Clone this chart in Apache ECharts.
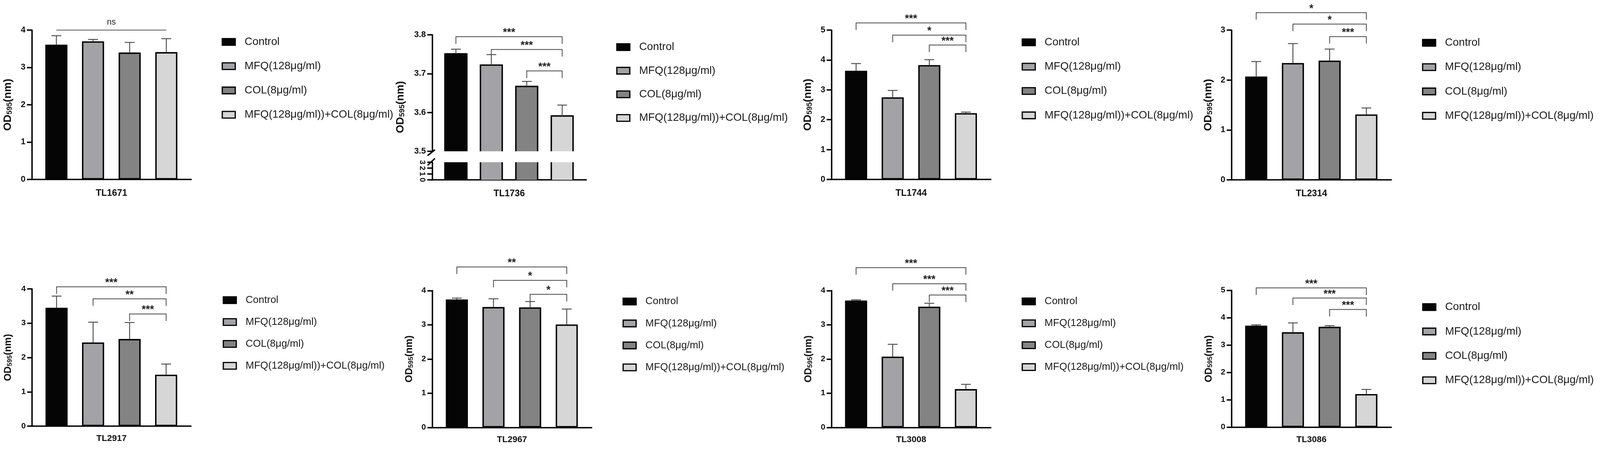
<!DOCTYPE html>
<html><head><meta charset="utf-8">
<script src="https://cdn.jsdelivr.net/npm/echarts@6/dist/echarts.min.js"></script>
<style>html,body{margin:0;padding:0;background:#fff;overflow:hidden}#c{width:100vw;height:100vh}</style>
</head><body><div id="c"></div>
<script>
// ---------- DATA ----------
const groups = ['Control', 'MFQ(128μg/ml)', 'COL(8μg/ml)', 'MFQ(128μg/ml))+COL(8μg/ml)'];
const strains = ['TL1671', 'TL1736', 'TL1744', 'TL2314', 'TL2917', 'TL2967', 'TL3008', 'TL3086'];

const meanTL1671 = [3.61, 3.70, 3.40, 3.41];
const sdTL1671   = [0.24, 0.05, 0.27, 0.36];
const sigTL1671  = [[0, 3, 4.0, 'ns']];

const meanTL1736 = [3.751, 3.722, 3.667, 3.591];
const sdTL1736   = [0.012, 0.027, 0.013, 0.028];
const sigTL1736  = [[0, 3, 3.795, '***'], [1, 3, 3.762, '***'], [2, 3, 3.707, '***']];

const meanTL1744 = [3.64, 2.75, 3.83, 2.22];
const sdTL1744   = [0.24, 0.23, 0.18, 0.035];
const sigTL1744  = [[0, 3, 5.24, '***'], [1, 3, 4.83, '*'], [2, 3, 4.50, '***']];

const meanTL2314 = [2.07, 2.34, 2.39, 1.31];
const sdTL2314   = [0.30, 0.39, 0.23, 0.13];
const sigTL2314  = [[0, 3, 3.35, '*'], [1, 3, 3.12, '*'], [2, 3, 2.87, '***']];

const meanTL2917 = [3.45, 2.44, 2.54, 1.50];
const sdTL2917   = [0.34, 0.59, 0.48, 0.31];
const sigTL2917  = [[0, 3, 4.06, '***'], [1, 3, 3.71, '**'], [2, 3, 3.27, '***']];

const meanTL2967 = [3.74, 3.52, 3.51, 3.01];
const sdTL2967   = [0.04, 0.24, 0.17, 0.45];
const sigTL2967  = [[0, 3, 4.69, '**'], [1, 3, 4.30, '*'], [2, 3, 3.89, '*']];

const meanTL3008 = [3.71, 2.07, 3.53, 1.12];
const sdTL3008   = [0.02, 0.36, 0.10, 0.14];
const sigTL3008  = [[0, 3, 4.67, '***'], [1, 3, 4.20, '***'], [2, 3, 3.87, '***']];

const meanTL3086 = [3.71, 3.47, 3.67, 1.21];
const sdTL3086   = [0.03, 0.34, 0.04, 0.17];
const sigTL3086  = [[0, 3, 5.09, '***'], [1, 3, 4.72, '***'], [2, 3, 4.30, '***']];

const means = [meanTL1671, meanTL1736, meanTL1744, meanTL2314, meanTL2917, meanTL2967, meanTL3008, meanTL3086];
const sds   = [sdTL1671, sdTL1736, sdTL1744, sdTL2314, sdTL2917, sdTL2967, sdTL3008, sdTL3086];
const sigs  = [sigTL1671, sigTL1736, sigTL1744, sigTL2314, sigTL2917, sigTL2967, sigTL3008, sigTL3086];

// ---------- STYLE / LAYOUT (design px for a 4562x1192 canvas) ----------
const FONT = 'Liberation Sans, Arial, Helvetica, sans-serif';
const fills = ['#050505', '#a3a3a7', '#838383', '#d6d6d6'];
const X_MIN = -0.67, X_MAX = 3.68;
const layouts = [
  {left: 90.7, width: 454.6, top: 77, height: 382, min: 0, max: 4, interval: 1, nameGap: 52, tickF: 24, nameF: 31, catF: 26, catGap: 24,
   leg: {left: 632, top: 93.2, gap: 34.1, font: 31}},
  {left: 1232.2, width: 439.4, top: 89, height: 298, min: 3.5, max: 3.8, interval: 0.1, nameGap: 75, tickF: 24, nameF: 31, catF: 26, catGap: 24,
   broken: {top: 415, height: 45, min: 0, max: 3, interval: 1},
   leg: {left: 1757, top: 106.5, gap: 32.4, font: 31}},
  {left: 2371, width: 454, top: 77, height: 382, min: 0, max: 5, interval: 1, nameGap: 52, tickF: 24, nameF: 31, catF: 26, catGap: 24,
   leg: {left: 2913, top: 94.2, gap: 34.3, font: 31}},
  {left: 3511.6, width: 455.4, top: 77, height: 383, min: 0, max: 3, interval: 1, nameGap: 51, tickF: 24, nameF: 31, catF: 26, catGap: 24,
   leg: {left: 4054.5, top: 95.5, gap: 34.2, font: 31}},
  {left: 91.5, width: 453, top: 739, height: 351, min: 0, max: 4, interval: 1, nameGap: 54, tickF: 23, nameF: 28, catF: 25, catGap: 21,
   leg: {left: 635, top: 754.8, gap: 30, font: 29}},
  {left: 1232.6, width: 454.4, top: 743.3, height: 350, min: 0, max: 4, interval: 1, nameGap: 51, tickF: 23, nameF: 28, catF: 25, catGap: 21,
   leg: {left: 1775, top: 758.2, gap: 30.2, font: 29}},
  {left: 2371, width: 454, top: 743.3, height: 350, min: 0, max: 4, interval: 1, nameGap: 51, tickF: 23, nameF: 28, catF: 25, catGap: 21,
   leg: {left: 2913, top: 758, gap: 30, font: 29}},
  {left: 3511.6, width: 455.4, top: 742.7, height: 350, min: 0, max: 5, interval: 1, nameGap: 51, tickF: 23, nameF: 28, catF: 25, catGap: 21,
   leg: {left: 4055, top: 771.5, gap: 34.4, font: 31}}
];

const chart = echarts.init(document.getElementById('c'), null, {renderer: 'canvas'});
const KX = chart.getWidth() / 4562, KY = chart.getHeight() / 1192, K = Math.min(KX, KY);
const sx = v => v * KX, sy = v => v * KY, s = v => v * K;

const grids = [], xAxes = [], yAxes = [], series = [], legends = [];

function yName(F, extraPad) {
  return {
    name: '{a|OD}{b|595}{a|(nm)}',
    nameLocation: 'middle',
    nameRotate: 90,
    nameMoveOverlap: false,
    nameTextStyle: {
      fontFamily: FONT, fontWeight: 'bold', fontSize: s(F), color: '#111',
      padding: extraPad ? [0, sy(extraPad), 0, 0] : 0,
      rich: {
        a: {fontFamily: FONT, fontWeight: 'bold', fontSize: s(F), color: '#111', verticalAlign: 'bottom'},
        b: {fontFamily: FONT, fontWeight: 'bold', fontSize: s(F * 0.68), color: '#111', verticalAlign: 'bottom'}
      }
    }
  };
}

function yAxisBase(L, gi, opt) {
  return {
    type: 'value', gridIndex: gi, min: opt.min, max: opt.max, interval: opt.interval,
    axisLine: {show: true, onZero: false, lineStyle: {color: '#000', width: s(4)}},
    axisTick: {show: true, length: sx(14), lineStyle: {color: '#000', width: s(4)}},
    axisLabel: {show: true, margin: sx(18), fontFamily: FONT, fontWeight: 'bold', fontSize: s(L.tickF), color: '#111',
      formatter: v => (opt.interval < 1 ? v.toFixed(1) : String(Math.round(v)))},
    splitLine: {show: false}
  };
}

function xAxisBase(L, gi, show, withName, strain) {
  const ax = {
    type: 'value', gridIndex: gi, min: X_MIN, max: X_MAX, show: show,
    axisLine: {show: true, onZero: false, lineStyle: {color: '#000', width: s(4)}},
    axisTick: {show: false}, axisLabel: {show: false}, splitLine: {show: false}
  };
  if (withName) {
    ax.name = strain; ax.nameLocation = 'middle'; ax.nameGap = sy(L.catGap); ax.nameMoveOverlap = false;
    ax.nameTextStyle = {fontFamily: FONT, fontWeight: 'bold', fontSize: s(L.catF), color: '#111'};
  }
  return ax;
}

function errRender(params, api) {
  const x = api.value(0), m = api.value(1), sd = api.value(2);
  const p0 = api.coord([x, m]), p1 = api.coord([x, m + sd]);
  const cap = sx(14), st = {stroke: '#454545', lineWidth: s(2.5)};
  return {type: 'group', children: [
    {type: 'line', shape: {x1: p0[0], y1: p0[1], x2: p1[0], y2: p1[1]}, style: st},
    {type: 'line', shape: {x1: p1[0] - cap, y1: p1[1], x2: p1[0] + cap, y2: p1[1]}, style: st}
  ]};
}

function bracketRender(sig) {
  return function (params, api) {
    const row = sig[params.dataIndex];
    const a = api.coord([row[0], row[2]]), b = api.coord([row[1], row[2]]);
    const isNs = row[3] === 'ns';
    const leg = isNs ? 0 : sy(18);
    const st = {stroke: '#5a5a5a', lineWidth: s(2.5), fill: null};
    const kids = [{type: 'polyline', shape: {points: [[a[0], a[1] + leg], [a[0], a[1]], [b[0], b[1]], [b[0], b[1] + leg]]}, style: st}];
    kids.push({type: 'text', x: (a[0] + b[0]) / 2, y: a[1] - sy(isNs ? 20 : 10),
      style: {text: row[3], fill: '#222', fontFamily: FONT, fontSize: s(isNs ? 24 : 30), fontWeight: isNs ? 'normal' : 'bold',
        align: 'center', verticalAlign: 'middle'}});
    return {type: 'group', children: kids};
  };
}

function breakRender(params, api) {
  const p = api.coord([api.value(0), api.value(1)]);
  const up = api.value(2) === 0;
  const st = {stroke: '#000', lineWidth: s(4)};
  return {type: 'line', shape: up ? {x1: p[0] - sx(13), y1: p[1] + sy(11), x2: p[0] + sx(8), y2: p[1] - sy(4)}
                                  : {x1: p[0] - sx(13), y1: p[1] + sy(8), x2: p[0] + sx(8), y2: p[1] - sy(10)}, style: st};
}

// open outline for bars of the broken-axis panel (no edge at the break)
function outlineRender(base, capTop, halfPx) {
  return function (params, api) {
    const half = sx(halfPx);
    const x = api.value(0), v = api.value(1);
    const p0 = api.coord([x, base]), p1 = api.coord([x, capTop ? v : api.value(2)]);
    const st = {stroke: '#000', lineWidth: s(4), fill: null, lineJoin: 'miter'};
    if (capTop) {
      return {type: 'polyline', shape: {points: [[p0[0] - half, p0[1]], [p0[0] - half, p1[1]], [p0[0] + half, p1[1]], [p0[0] + half, p0[1]]]}, style: st};
    }
    return {type: 'group', children: [
      {type: 'line', shape: {x1: p0[0] - half, y1: p0[1], x2: p0[0] - half, y2: p1[1]}, style: st},
      {type: 'line', shape: {x1: p0[0] + half, y1: p0[1], x2: p0[0] + half, y2: p1[1]}, style: st}
    ]};
  };
}

function addBars(gi, mean, barW, border) {
  groups.forEach((g, i) => {
    series.push({
      type: 'bar', name: g, xAxisIndex: gi, yAxisIndex: gi,
      data: [[i, mean[i]]], barWidth: sx(barW), barGap: '-100%',
      itemStyle: {color: fills[i], borderColor: '#000', borderWidth: s(border)},
      emphasis: {disabled: true}, z: 2
    });
  });
}

function gridBox(left, top, width, height) {
  return {left: sx(left), top: sy(top), width: sx(width), height: sy(height), containLabel: false, outerBoundsMode: 'none'};
}

layouts.forEach((L, pi) => {
  const strain = strains[pi], mean = means[pi], sd = sds[pi], sig = sigs[pi];
  const gi = grids.length;
  grids.push(gridBox(L.left, L.top, L.width, L.height));
  if (L.broken) {
    const B = L.broken;
    // upper segment
    xAxes.push(xAxisBase(L, gi, false, false, strain));
    yAxes.push(Object.assign(yAxisBase(L, gi, L), yName(L.nameF, 72), {nameGap: sx(L.nameGap)}));
    addBars(gi, mean, 66, 0);
    series.push({type: 'custom', name: 'outline-up', xAxisIndex: gi, yAxisIndex: gi, renderItem: outlineRender(L.min, true, 31),
      encode: {x: 0, y: 1}, data: mean.map((m, i) => [i, m]), z: 3, silent: true, clip: false});
    // lower segment
    const gl = grids.length;
    grids.push(gridBox(L.left, B.top, L.width, B.height));
    xAxes.push(xAxisBase(L, gl, true, true, strain));
    const lowAx = yAxisBase(L, gl, B);
    lowAx.axisLabel.rotate = -90;
    lowAx.axisLabel.fontSize = s(22);
    yAxes.push(lowAx);
    addBars(gl, mean, 66, 0);
    series.push({type: 'custom', name: 'outline-low', xAxisIndex: gl, yAxisIndex: gl, renderItem: outlineRender(B.min, false, 31),
      encode: {x: 0, y: 1}, data: mean.map((m, i) => [i, m, B.max]), z: 3, silent: true, clip: false});
    series.push({type: 'custom', name: 'break-up', xAxisIndex: gi, yAxisIndex: gi, renderItem: breakRender,
      data: [[X_MIN, L.min, 0]], z: 5, silent: true, clip: false});
    series.push({type: 'custom', name: 'break-low', xAxisIndex: gl, yAxisIndex: gl, renderItem: breakRender,
      data: [[X_MIN, B.max, 1]], z: 5, silent: true, clip: false});
  } else {
    xAxes.push(xAxisBase(L, gi, true, true, strain));
    yAxes.push(Object.assign(yAxisBase(L, gi, L), yName(L.nameF, 0), {nameGap: sx(L.nameGap)}));
    addBars(gi, mean, 63, 4);
  }
  series.push({type: 'custom', name: 'err-' + strain, xAxisIndex: gi, yAxisIndex: gi, renderItem: errRender,
    encode: {x: 0, y: 1}, data: mean.map((m, i) => [i, m, sd[i]]), z: 3, silent: true, clip: false});
  series.push({type: 'custom', name: 'sig-' + strain, xAxisIndex: gi, yAxisIndex: gi, renderItem: bracketRender(sig),
    encode: {x: [0, 1], y: 2}, data: sig.map(r => [r[0], r[1], r[2]]), z: 4, silent: true, clip: false});
  legends.push({
    data: groups.slice(), orient: 'vertical', left: sx(L.leg.left), top: sy(L.leg.top), itemGap: sy(L.leg.gap),
    itemWidth: sx(37), itemHeight: sy(17), icon: 'rect', selectedMode: false, padding: 0,
    itemStyle: {borderColor: '#000', borderWidth: s(3.5)},
    textStyle: {fontFamily: FONT, fontSize: s(L.leg.font), color: '#1a1a1a', lineHeight: sy(17), padding: [0, 0, 0, sx(21)]}
  });
});

chart.setOption({
  animation: false,
  backgroundColor: '#fff',
  grid: grids, xAxis: xAxes, yAxis: yAxes, legend: legends, series: series
});
</script></body></html>
